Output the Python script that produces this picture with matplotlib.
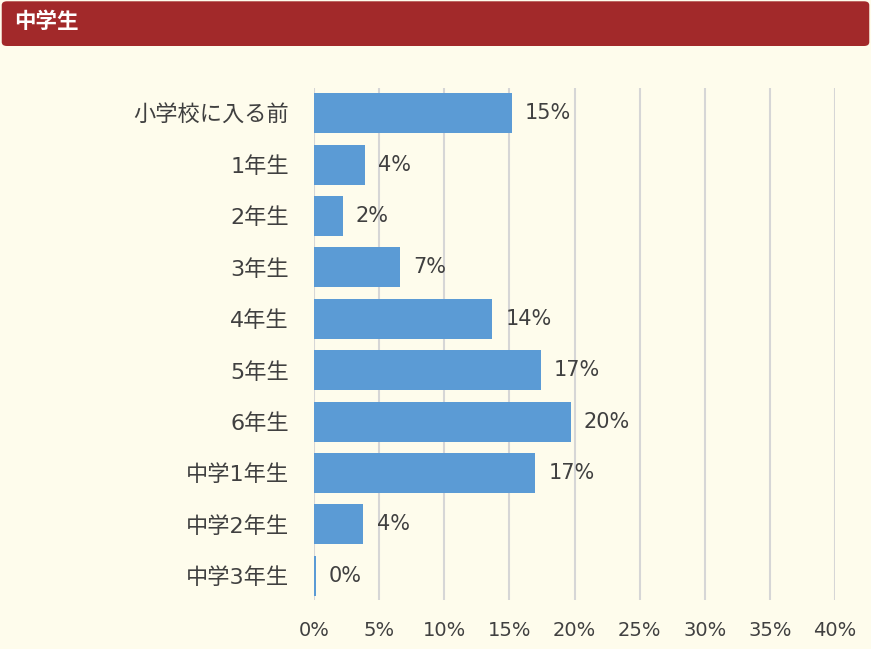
import matplotlib
matplotlib.use("Agg")
import matplotlib.pyplot as plt
from matplotlib.patches import FancyBboxPatch

plt.rcParams['font.family'] = ['DejaVu Sans', 'Noto Sans CJK JP']

title = "中学生"
categories = ["小学校に入る前", "1年生", "2年生", "3年生", "4年生", "5年生", "6年生",
              "中学1年生", "中学2年生", "中学3年生"]
values = [15.2, 3.9, 2.2, 6.6, 13.7, 17.4, 19.7, 17.0, 3.8, 0.15]
labels = ["15%", "4%", "2%", "7%", "14%", "17%", "20%", "17%", "4%", "0%"]
xticks = [0, 5, 10, 15, 20, 25, 30, 35, 40]

bg = "#FEFCEC"
txt = "#404040"
fig = plt.figure(figsize=(8.71, 6.49), dpi=100, facecolor=bg)

# header band
hdr = FancyBboxPatch((0.002, 1 - 46 / 649), 0.996, 46 / 649 - 0.002,
                     boxstyle="round,pad=0,rounding_size=0.006",
                     transform=fig.transFigure, facecolor="#A2292A",
                     edgecolor="none")
fig.patches.append(hdr)
fig.text(14 / 871, 1 - 22 / 649, title, color="white", fontsize=15.5,
         fontweight="bold", va="center", ha="left",
         family=['Noto Sans CJK JP', 'DejaVu Sans'])

ax = fig.add_axes([314 / 871, 1 - 600 / 649, (835 - 314) / 871, (600 - 88) / 649])
ax.set_facecolor(bg)
pos = list(range(len(categories)))
ax.barh(pos, values, height=0.78, color="#5B9BD5", zorder=3)
for p, v, t in zip(pos, values, labels):
    ax.text(v + 1.0, p, t, va="center", ha="left", fontsize=15, color=txt, zorder=4)

ax.set_xlim(0, 40)
ax.set_ylim(9.47, -0.49)
ax.set_xticks(xticks)
ax.set_xticklabels([f"{x}%" for x in xticks], fontsize=14, color=txt)
ax.set_yticks(pos)
ax.set_yticklabels(categories, fontsize=16, color=txt)
ax.tick_params(axis="both", length=0)
ax.tick_params(axis="x", pad=15)
ax.tick_params(axis="y", pad=18)
ax.grid(axis="x", color="#D6D6D6", linewidth=1.5, zorder=0)
for s in ax.spines.values():
    s.set_visible(False)

fig.savefig("out.png", dpi=100, facecolor=bg)
